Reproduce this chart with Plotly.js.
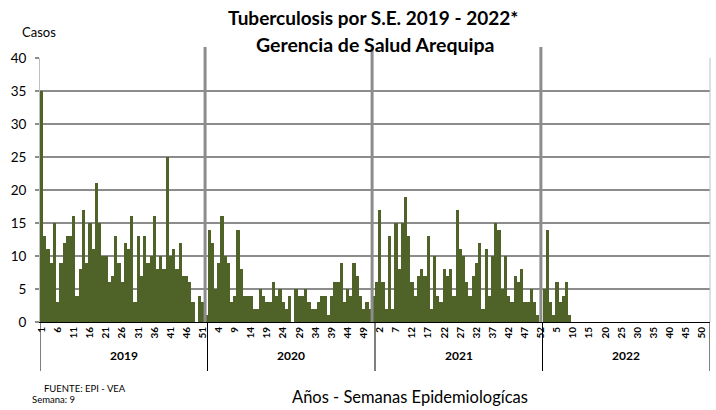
<!DOCTYPE html>
<html>
<head>
<meta charset="utf-8">
<script src="https://cdn.plot.ly/plotly-3.0.1.min.js"></script>
<style>
  html, body { margin: 0; padding: 0; background: #ffffff; }
  #chart { width: 716px; height: 410px; }
</style>
</head>
<body>
<div id="chart"></div>
<script>
// Casos de tuberculosis por semana epidemiológica, Gerencia de Salud Arequipa
const years = ['2019', '2020', '2021', '2022'];
const weeksPerYear = [52, 52, 52, 52];

const cases2019 = [35,13,11,9,15,3,9,12,13,13,16,4,8,17,9,15,11,21,15,10,
                   10,6,7,13,9,6,12,11,16,3,13,7,13,9,10,16,8,10,8,25,
                   10,11,8,12,7,7,6,3,0,4,3,1];
const cases2020 = [14,12,5,9,16,10,9,3,4,14,8,4,4,4,2,2,5,4,3,3,
                   6,4,5,3,2,4,0,5,4,4,5,3,2,2,3,4,4,1,4,6,
                   6,9,3,5,4,9,7,4,2,3,2,4];
const cases2021 = [6,17,6,2,13,2,15,8,15,19,13,6,4,7,8,7,13,2,10,4,
                   3,8,7,8,4,17,11,10,6,4,7,9,12,2,11,4,10,15,14,5,
                   10,4,3,7,6,8,3,3,5,3,1,0];
const cases2022 = [5,14,3,1,6,3,4,6,1];   // semana 9

const seriesByYear = [cases2019, cases2020, cases2021, cases2022];

// Flatten year/week into one running category index
const xIdx = [], yVals = [], tickVals = [], tickText = [];
const groupStart = [];
let idx = 0;
years.forEach((yr, yi) => {
  groupStart.push(idx);
  for (let w = 1; w <= weeksPerYear[yi]; w++) {
    const v = seriesByYear[yi][w - 1];
    xIdx.push(idx);
    yVals.push(v === undefined ? null : v);
    if (idx % 5 === 0) { tickVals.push(idx); tickText.push(String(w)); }
    idx++;
  }
});
const nCats = idx;
groupStart.push(nCats);

// Plot area geometry (pixels)
const W = 716, H = 410;
const M = { l: 40, r: 6, t: 58, b: 88 };
const plotW = W - M.l - M.r, plotH = H - M.t - M.b;
const px2x = px => (px - M.l) / plotW;          // paper x from pixel x
const py2y = py => (H - M.b - py) / plotH;      // paper y from pixel y

const font = 'Lato, "Open Sans", sans-serif';
const shapes = [];
const annotations = [];

// Year group dividers below the axis
groupStart.forEach(s => {
  shapes.push({ type: 'line', xref: 'x', yref: 'paper',
    x0: s - 0.5, x1: s - 0.5, y0: 0, y1: py2y(371),
    line: { color: '#000000', width: 1 } });
});
// Year labels
years.forEach((yr, yi) => {
  annotations.push({ xref: 'x', yref: 'paper',
    x: (groupStart[yi] + groupStart[yi + 1] - 1) / 2, y: py2y(355),
    xanchor: 'center', yanchor: 'middle',
    text: yr, showarrow: false,
    font: { family: font, size: 12, color: '#000000', weight: 'bold' } });
});
// Grey year separators inside the plot
[50.75, 102.6, 155.0].forEach(xv => {
  shapes.push({ type: 'line', xref: 'x', yref: 'paper',
    x0: xv, x1: xv, y0: 0, y1: py2y(47),
    line: { color: '#8c8c8c', width: 3 } });
});
// Right border of plot area
shapes.push({ type: 'line', xref: 'paper', yref: 'paper',
  x0: 1, x1: 1, y0: 0, y1: 1, line: { color: '#bfbfbf', width: 1 } });

// Titles and notes
const note = (px, py, text, size, opts) => Object.assign({
  xref: 'paper', yref: 'paper', x: px2x(px), y: py2y(py),
  xanchor: 'center', yanchor: 'middle', showarrow: false, text: text,
  font: { family: font, size: size, color: '#000000' }
}, opts || {});

annotations.push(
  note(373, 18, 'Tuberculosis por S.E. 2019 - 2022*', 19,
       { font: { family: font, size: 19, color: '#000000', weight: 'bold' } }),
  note(375, 45, 'Gerencia de Salud Arequipa', 19.5,
       { font: { family: font, size: 19.5, color: '#000000', weight: 'bold' } }),
  note(39, 32, 'Casos', 13),
  note(42, 388, 'FUENTE: EPI - VEA', 9.5, { xanchor: 'left' }),
  note(30, 399, 'Semana: 9', 9.5, { xanchor: 'left' }),
  note(410, 397, 'Años - Semanas Epidemiologícas', 16.5)
);

const trace = {
  type: 'bar',
  x: xIdx,
  y: yVals,
  marker: { color: '#4f6228', line: { width: 0 } },
  hoverinfo: 'y'
};

const layout = {
  width: W, height: H,
  margin: M,
  paper_bgcolor: '#ffffff',
  plot_bgcolor: '#ffffff',
  showlegend: false,
  bargap: 0,
  font: { family: font, color: '#000000' },
  xaxis: {
    range: [-0.5, nCats - 0.5],
    tickmode: 'array', tickvals: tickVals, ticktext: tickText,
    tickangle: -90,
    tickfont: { family: font, size: 10, color: '#000000', weight: 'bold' },
    ticks: '',
    showgrid: false, zeroline: false,
    showline: true, linecolor: '#000000', linewidth: 1
  },
  yaxis: {
    range: [0, 40], dtick: 5,
    tickfont: { family: font, size: 13.5, color: '#000000' },
    ticks: 'outside', ticklen: 4, tickcolor: '#8c8c8c', tickwidth: 2,
    ticklabelstandoff: 6,
    showgrid: true, gridcolor: '#8c8c8c', gridwidth: 2,
    zeroline: false,
    showline: true, linecolor: '#bfbfbf', linewidth: 1
  },
  shapes: shapes,
  annotations: annotations
};

Plotly.newPlot('chart', [trace], layout, { staticPlot: true, displayModeBar: false });
</script>
</body>
</html>
